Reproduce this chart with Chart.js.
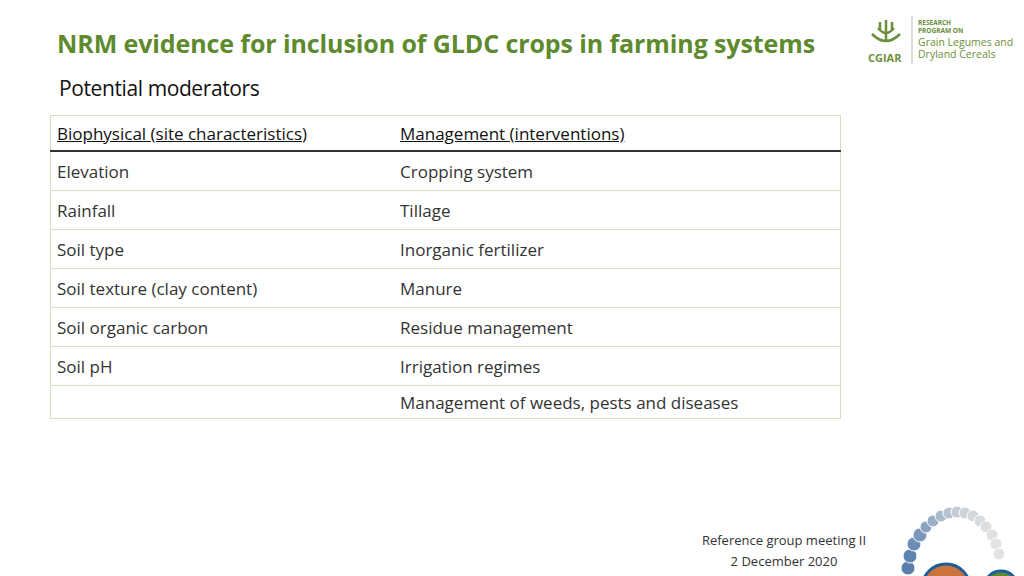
<!DOCTYPE html>
<html><head><meta charset="utf-8">
<script src="https://cdn.jsdelivr.net/npm/chart.js@4"></script>
<style>
body{margin:0;width:1024px;height:576px;background:#fff;position:relative;overflow:hidden;font-family:"Open Sans",Calibri,"Liberation Sans",sans-serif;}
#title{position:absolute;left:57px;top:26px;font-size:25px;font-weight:bold;color:#5e8a2e;font-family:"Open Sans",sans-serif;letter-spacing:-0.1px}
#sub{position:absolute;left:59px;top:74px;font-size:21px;color:#111;letter-spacing:-0.4px}
table{position:absolute;left:50px;top:115px;width:791px;border-collapse:collapse;font-size:17px;color:#333}
td{border-top:1px solid #cfe0c3;padding:0 6px;height:38px}
tr.h td{height:34px;color:#111;border-bottom:2px solid #333;border-top:1px solid #cfe0c3;text-decoration:underline;font-size:17px}
table{border-left:1px solid #cfe0c3;border-right:1px solid #cfe0c3;border-bottom:1px solid #cfe0c3}
td:nth-child(2){padding-left:0}
#foot{position:absolute;left:698px;top:530px;font-size:13px;color:#333;text-align:center;line-height:21px;width:172px}
#logo{position:absolute;left:866px;top:14px;width:150px;height:50px}
#dec{position:absolute;left:880px;top:500px;width:144px;height:76px}
</style></head><body>
<div id="title">NRM evidence for inclusion of GLDC crops in farming systems</div>
<div id="sub">Potential moderators</div>
<table id="tbl"></table>
<div id="foot">Reference group meeting II<br>2 December 2020</div>
<div id="logo">
<svg width="150" height="50"><g stroke="#6b8e3a" fill="none" stroke-width="2.5"><path d="M20 6v22M12 14q8 10 16 0M6 20q14 14 28 0M14 8v8M26 8v8"/></g>
<text x="2" y="48" font-family="Open Sans" font-weight="bold" font-size="11" fill="#6b8e3a">CGIAR</text>
<line x1="46" y1="2" x2="46" y2="50" stroke="#bbb"/>
<text x="52" y="11" font-family="Open Sans" font-weight="bold" font-size="6.5" fill="#6b8e3a">RESEARCH</text>
<text x="52" y="19" font-family="Open Sans" font-weight="bold" font-size="6.5" fill="#6b8e3a">PROGRAM ON</text>
<text x="52" y="32" font-family="Open Sans" font-size="10.5" fill="#6b8e3a">Grain Legumes and</text>
<text x="52" y="44" font-family="Open Sans" font-size="10.5" fill="#6b8e3a">Dryland Cereals</text></svg></div>
<div id="dec"><canvas id="c"></canvas></div>
<script>
const headers=["Biophysical (site characteristics)","Management  (interventions)"];
const biophysical=["Elevation","Rainfall","Soil type","Soil texture (clay content)","Soil organic carbon","Soil pH",""];
const management=["Cropping system","Tillage","Inorganic fertilizer","Manure","Residue management","Irrigation regimes","Management of weeds, pests and diseases"];
const t=document.getElementById('tbl');
let h='<tr class="h"><td style="width:337px">'+headers[0]+'</td><td>'+headers[1]+'</td></tr>';
biophysical.forEach((b,i)=>{h+='<tr><td>'+b+'</td><td>'+management[i]+'</td></tr>';});
t.innerHTML=h;
t.rows[t.rows.length-1].cells[0].style.height='32px';t.rows[t.rows.length-1].cells[1].style.height='32px';
// decorative arc of dots (canvas coords: x right, y down)
const dotX=[28,30,34,40,46,53,61,69,77,85,93,100,106,112,116,119];
const dotY=[68,56,44,35,27,21,16,13,12,13,16,21,27,35,44,54];
const dotR=[7,7,7,7,6,6,6,6,6,6,6,6,6,6,6,6];
const dotC=['#5a7fad','#5f83b0','#6c8db6','#7b98bc','#8aa3c2','#9aafc8','#a9bacd','#b7c3d2','#c4cdd6','#cdd3d9','#d3d7dc','#d8dbde','#dcdee0','#dfe0e2','#e1e2e3','#e3e3e4'];
Chart.controllers.bubble.prototype.getMaxOverflow=function(){return 0;};
new Chart(document.getElementById('c'),{type:'bubble',
data:{datasets:[{data:dotX.map((x,i)=>({x:x,y:dotY[i],r:dotR[i]})),backgroundColor:dotC,borderColor:'#fff',borderWidth:1,clip:false},
{data:[{x:66,y:88,r:24},{x:121,y:88,r:17}],backgroundColor:['#c9743e','#5e8a2e'],borderColor:'#1f5d96',borderWidth:3,clip:false}]},
options:{responsive:true,maintainAspectRatio:false,animation:false,events:[],layout:{padding:0},
plugins:{legend:{display:false},tooltip:{enabled:false}},
scales:{x:{display:false,min:0,max:144},y:{display:false,min:0,max:76,reverse:true}}}});
</script>
</body></html>
